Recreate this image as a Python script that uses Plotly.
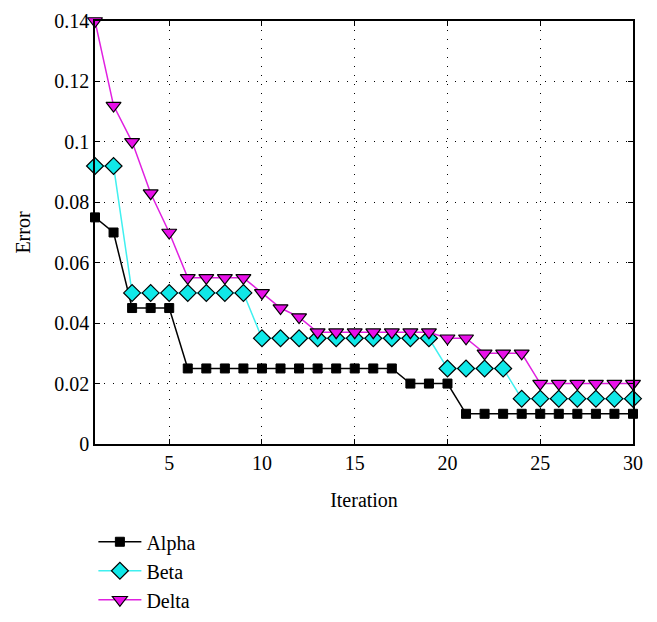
import plotly.graph_objects as go

iterations = list(range(1, 31))
alpha = [0.075, 0.07, 0.045, 0.045, 0.045] + [0.025] * 12 + [0.02] * 3 + [0.01] * 10
beta = [0.092, 0.092, 0.05, 0.05, 0.05, 0.05, 0.05, 0.05, 0.05] + [0.035] * 10 + [0.025] * 4 + [0.015] * 7
delta = [0.14, 0.112, 0.1, 0.083, 0.07, 0.055, 0.055, 0.055, 0.055, 0.05, 0.045, 0.042] + [0.037] * 7 + [0.035] * 2 + [0.03] * 3 + [0.02] * 6

x_ticks = [5, 10, 15, 20, 25, 30]
y_ticks = [0, 0.02, 0.04, 0.06, 0.08, 0.1, 0.12, 0.14]
y_tick_labels = ["0", "0.02", "0.04", "0.06", "0.08", "0.1", "0.12", "0.14"]

FONT = "Liberation Serif"

fig = go.Figure()
fig.add_trace(go.Scatter(
    x=iterations, y=alpha, name="Alpha", mode="lines+markers",
    line=dict(color="black", width=1.5),
    marker=dict(symbol="square", size=9, color="black", line=dict(color="black", width=1)),
    cliponaxis=False))
fig.add_trace(go.Scatter(
    x=iterations, y=beta, name="Beta", mode="lines+markers",
    line=dict(color="#40F0F0", width=1.5),
    marker=dict(symbol="diamond", size=13, color="#10E8E8", line=dict(color="black", width=1.2)),
    cliponaxis=False))
fig.add_trace(go.Scatter(
    x=iterations, y=delta, name="Delta", mode="lines+markers",
    line=dict(color="#E020E0", width=1.5),
    marker=dict(symbol="triangle-down", size=13, color="#E810E8", line=dict(color="black", width=1.2)),
    cliponaxis=False))

axis_common = dict(
    showline=True, linecolor="black", linewidth=1.5, mirror="ticks",
    ticks="inside", ticklen=5, tickcolor="black", tickwidth=1,
    showgrid=True, gridcolor="black", gridwidth=1, griddash="1px,8px",
    zeroline=False, tickfont=dict(family=FONT, size=20, color="black"),
)

fig.update_xaxes(range=[1, 30], tickvals=x_ticks, ticktext=[str(t) for t in x_ticks],
                 title=dict(text="Iteration", font=dict(family=FONT, size=20, color="black"), standoff=20),
                 **axis_common)
fig.update_yaxes(range=[0, 0.14], tickvals=y_ticks, ticktext=y_tick_labels,
                 title=dict(text="Error", font=dict(family=FONT, size=20, color="black"), standoff=18),
                 **axis_common)

fig.update_layout(
    width=649, height=614,
    margin=dict(l=87, r=24, t=13, b=178, autoexpand=False),
    plot_bgcolor="white", paper_bgcolor="white",
    font=dict(family=FONT, size=20, color="black"),
    legend=dict(x=-0.003, y=-0.185, xanchor="left", yanchor="top",
                font=dict(family=FONT, size=20, color="black"),
                bgcolor="rgba(0,0,0,0)", itemwidth=43),
    showlegend=True,
)

fig.write_html("out.html")
